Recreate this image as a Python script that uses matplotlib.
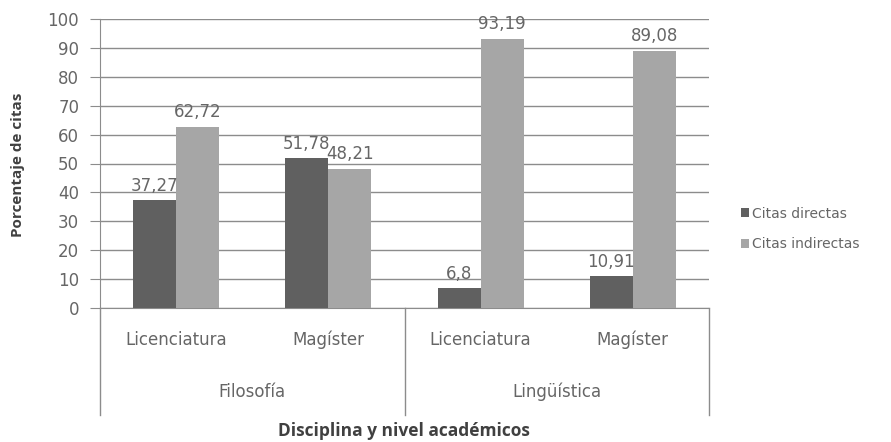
import matplotlib
matplotlib.use("Agg")
import matplotlib.pyplot as plt
import numpy as np
from matplotlib.lines import Line2D

plt.rcParams['font.family'] = ['DejaVu Sans']

niveles = ["Licenciatura", "Magíster", "Licenciatura", "Magíster"]
disciplinas = ["Filosofía", "Lingüística"]
citas_directas = [37.27, 51.78, 6.8, 10.91]
citas_indirectas = [62.72, 48.21, 93.19, 89.08]
etiquetas_directas = ["37,27", "51,78", "6,8", "10,91"]
etiquetas_indirectas = ["62,72", "48,21", "93,19", "89,08"]
yticks = list(range(0, 101, 10))

dark = "#606060"
light = "#a6a6a6"
grid = "#8c8c8c"
txt = "#666666"
fs = 12
title_font = ['Open Sans', 'DejaVu Sans']

fig = plt.figure(figsize=(8.91, 4.42), dpi=100)
ax = fig.add_axes([100/891, 1-308/442, 609/891, 289/442])

x = np.arange(len(niveles))
w = 0.283
b1 = ax.bar(x - w/2, citas_directas, w, color=dark, label="Citas directas", zorder=3)
b2 = ax.bar(x + w/2, citas_indirectas, w, color=light, label="Citas indirectas", zorder=3)

for bars, labs in ((b1, etiquetas_directas), (b2, etiquetas_indirectas)):
    for r, lab in zip(bars, labs):
        ax.annotate(lab, (r.get_x() + r.get_width()/2, r.get_height()),
                    xytext=(0, 4), textcoords="offset points",
                    ha="center", va="bottom", fontsize=fs, color=txt, zorder=4)

ax.set_xlim(-0.5, len(niveles) - 0.5)
ax.set_ylim(0, 100)
ax.set_yticks(yticks)
ax.set_yticklabels([str(v) for v in yticks], fontsize=fs, color=txt)
ax.yaxis.grid(True, color=grid, linewidth=1, zorder=0)
ax.tick_params(axis="y", length=7, color=grid, pad=8)
ax.set_xticks([])
for s in ("top", "right"):
    ax.spines[s].set_visible(False)
ax.spines["left"].set_color(grid)
ax.spines["bottom"].set_color(grid)

# hierarchical category axis below the plot
trans = ax.get_xaxis_transform()
depth = -(415 - 308) / 289
for xv in (-0.5, 1.5, 3.5):
    ax.add_line(Line2D([xv, xv], [0, depth], transform=trans, color=grid,
                       linewidth=1, clip_on=False))
for xi, nv in zip(x, niveles):
    ax.text(xi, -(340 - 308) / 289, nv, transform=trans, ha="center",
            va="center", fontsize=fs, color=txt)
for gi, d in enumerate(disciplinas):
    ax.text(0.5 + 2*gi, -(392 - 308) / 289, d, transform=trans, ha="center",
            va="center", fontsize=fs, color=txt)

fig.text(404/891, 1 - 431/442, "Disciplina y nivel académicos", ha="center",
         va="center", fontsize=12.5, fontweight="bold", color="#404040",
         family=title_font)
fig.text(18/891, 1 - 165/442, "Porcentaje de citas", ha="center", va="center",
         rotation=90, fontsize=11, fontweight="bold", color="#404040",
         family=title_font)

leg = fig.legend(handles=[b1, b2], loc="center left",
                 bbox_to_anchor=(728/891, 1 - 229/442), frameon=False,
                 fontsize=10, handlelength=0.6, handleheight=0.6,
                 handletextpad=0.2, labelspacing=1.2)
for t in leg.get_texts():
    t.set_color(txt)

fig.savefig("out.png", dpi=100)
